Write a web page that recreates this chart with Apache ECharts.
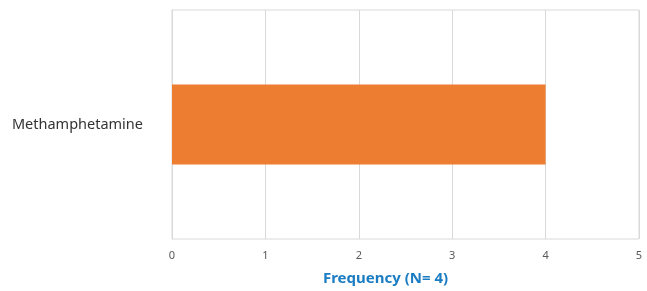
<!DOCTYPE html>
<html>
<head>
<meta charset="utf-8">
<script src="https://cdn.jsdelivr.net/npm/echarts@6/dist/echarts.min.js"></script>
<style>
  html, body { margin: 0; padding: 0; background: #fff; }
  #chart { width: 647px; height: 291px; }
</style>
</head>
<body>
<div id="chart"></div>
<script>
const categories = ['Methamphetamine']
const frequency = [4]
const xTicks = [0, 5, 1]   // min, max, interval
const axisTitle = 'Frequency (N= 4)'

const gridColor = '#d9d9d9'

const chart = echarts.init(document.getElementById('chart'), null, { renderer: 'canvas' })

chart.setOption({
  animation: false,
  backgroundColor: '#fff',
  textStyle: { fontFamily: 'Noto Sans' },
  grid: {
    left: 172, right: 8, top: 10, bottom: 47,
    show: true, borderColor: gridColor, borderWidth: 1,
    containLabel: false
  },
  xAxis: {
    type: 'value',
    min: xTicks[0], max: xTicks[1], interval: xTicks[2],
    axisLine: { show: false },
    axisTick: { show: false },
    splitLine: { lineStyle: { color: gridColor, width: 1 } },
    axisLabel: { color: '#595959', fontSize: 11, margin: 11 },
    name: axisTitle,
    nameLocation: 'middle',
    nameGap: 32,
    // title sits a bit left of the plot centre in the original
    nameTextStyle: { color: '#1a7cc2', fontSize: 15, fontWeight: 'bold', padding: [0, 40, 0, 0] }
  },
  yAxis: {
    type: 'category',
    data: categories,
    axisLine: { show: true, lineStyle: { color: gridColor } },
    axisTick: { show: false },
    axisLabel: { color: '#333', fontSize: 14.5, margin: 29 }
  },
  series: [{
    type: 'bar',
    data: frequency,
    barWidth: '35%',
    itemStyle: { color: '#ed7d31' }
  }]
})
</script>
</body>
</html>
